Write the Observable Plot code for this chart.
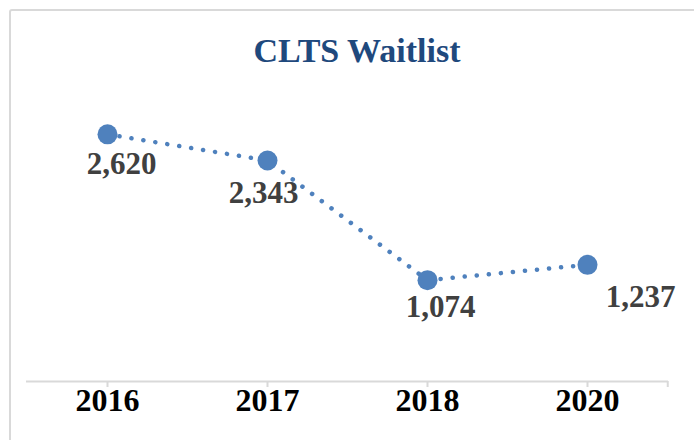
<!DOCTYPE html>
<html>
<head>
<meta charset="utf-8">
<script src="https://cdn.jsdelivr.net/npm/d3@7"></script>
<script src="https://cdn.jsdelivr.net/npm/@observablehq/plot@0.6"></script>
<style>
  html, body { margin: 0; padding: 0; background: #fff; }
  body { position: relative; width: 694px; height: 440px; overflow: hidden; }
  #frame { position: absolute; left: 9px; top: 9px; width: 720px; height: 470px;
           border: 2px solid #d9d9d9; border-radius: 3px; box-sizing: border-box; }
  #title { position: absolute; left: 9px; width: 696px; top: 31px; line-height: 40px;
           text-align: center; font-family: "Liberation Serif", serif; font-weight: bold;
           font-size: 34px; color: #1f497d; }
  #chart { position: absolute; left: 0; top: 90px; }
</style>
</head>
<body>
<div id="frame"></div>
<div id="title">CLTS Waitlist</div>
<div id="chart"></div>
<script>
const years = ["2016", "2017", "2018", "2020"];
const waitlist = [2620, 2343, 1074, 1237];
const labels = ["2,620", "2,343", "1,074", "1,237"];
// label nudges (px) relative to each marker, as placed in the original
const labelNudge = [[14, 30], [-4, 33], [13, 27], [53, 32]];

const data = years.map((y, i) => ({year: y, value: waitlist[i], label: labels[i]}));

const W = 694, H = 350, mL = 26, mR = 26, mT = 8, mB = 59;
const halfStep = (W - mL - mR) / years.length / 2;
const font = "Liberation Serif";

const plot = Plot.plot({
  width: W, height: H,
  marginLeft: mL, marginRight: mR, marginTop: mT, marginBottom: mB,
  style: {background: "transparent", overflow: "visible"},
  x: {type: "point", domain: years, padding: 0.5, axis: null},
  y: {domain: [0, 3000], axis: null},
  marks: [
    Plot.ruleY([0], {stroke: "#d9d9d9", strokeWidth: 2}),
    Plot.ruleX(years, {x: d => d, y1: 0, y2: 0, insetBottom: -6, stroke: "#d9d9d9", strokeWidth: 2}),
    Plot.ruleX([years[years.length - 1]], {x: d => d, y1: 0, y2: 0, insetBottom: -6, dx: halfStep, stroke: "#d9d9d9", strokeWidth: 2}),
    Plot.text(years, {x: d => d, frameAnchor: "bottom", dy: 29, text: d => d,
      fontFamily: font, fontWeight: "bold", fontSize: 32, fill: "#000"}),
    Plot.line(data, {x: "year", y: "value", stroke: "#4f81bd", strokeWidth: 4.5,
      strokeDasharray: "0.1 12", strokeLinecap: "round"}),
    Plot.dot(data, {x: "year", y: "value", r: 10, fill: "#4f81bd", stroke: "none"}),
    ...data.map((d, i) => Plot.text([d], {x: "year", y: "value", text: "label",
      dx: labelNudge[i][0], dy: labelNudge[i][1],
      fontFamily: font, fontWeight: "bold", fontSize: 31, fill: "#404040"}))
  ]
});
document.getElementById("chart").appendChild(plot);
</script>
</body>
</html>
